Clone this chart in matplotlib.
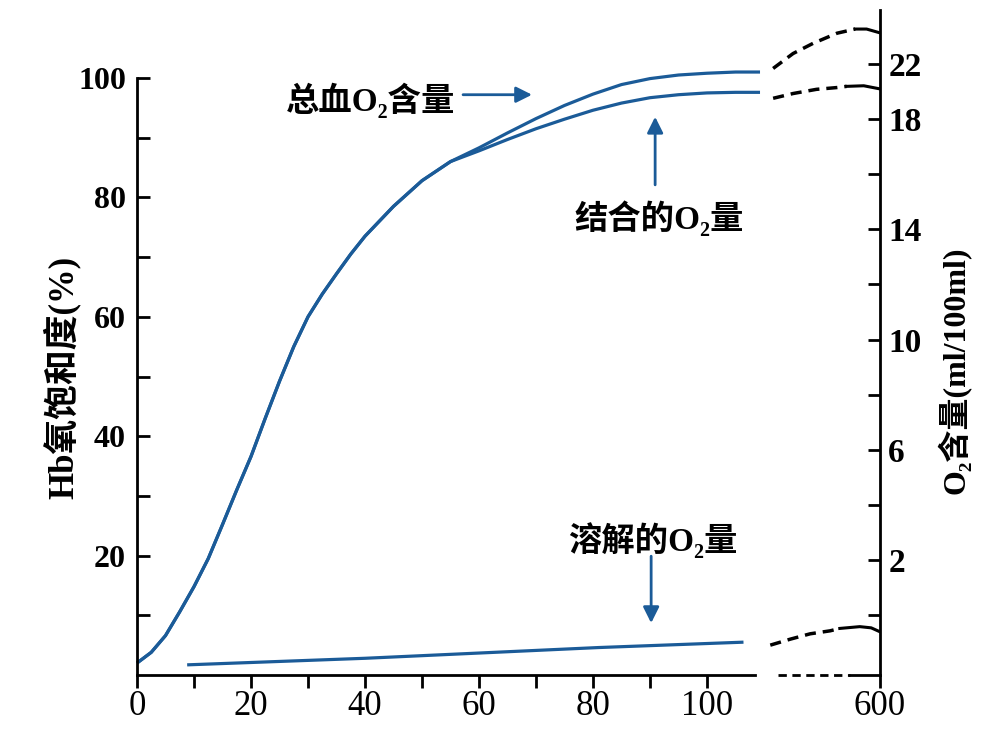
import matplotlib
matplotlib.use('Agg')
import matplotlib.pyplot as plt

# 氧分压 PO2 (mmHg) 与 Hb氧饱和度 (%) —— 从原图读取
po2_total = [0, 2.5, 5, 7.5, 10, 12.5, 15, 17.5, 20, 22.5, 25, 27.5, 30, 32.5, 35, 37.5, 40, 45, 50, 55,
             60, 65, 70, 75, 80, 85, 90, 95, 100, 105, 109.3]
total_o2 = [2.0, 3.8, 6.6, 10.6, 14.8, 19.5, 25.2, 31.0, 36.6, 43.0, 49.2, 55.0, 60.0, 63.8, 67.2, 70.5, 73.5,
            78.5, 82.8, 86.0, 88.3, 90.8, 93.2, 95.4, 97.3, 98.9, 99.9, 100.5, 100.8, 101.0, 101.0]

po2_bound = [0, 2.5, 5, 7.5, 10, 12.5, 15, 17.5, 20, 22.5, 25, 27.5, 30, 32.5, 35, 37.5, 40, 45, 50, 55,
             60, 65, 70, 75, 80, 85, 90, 95, 100, 105, 109.3]
bound_o2 = [2.0, 3.8, 6.6, 10.6, 14.8, 19.5, 25.2, 31.0, 36.6, 43.0, 49.2, 55.0, 60.0, 63.8, 67.2, 70.5, 73.5,
            78.5, 82.8, 86.0, 87.8, 89.7, 91.5, 93.1, 94.6, 95.8, 96.7, 97.2, 97.5, 97.6, 97.6]

po2_dissolved = [8.8, 40, 81, 106.4]
dissolved_o2 = [1.7, 2.8, 4.6, 5.5]

# 断轴之后 (到 600 mmHg) 的虚线部分
brk_total_x = [111.6, 115.1, 118.6, 122.8, 126.0]
brk_total_y = [101.6, 104.1, 105.8, 107.5, 108.2]
end_total_x = [126.0, 128.0, 130.2]
end_total_y = [108.2, 108.2, 107.6]

brk_bound_x = [111.6, 115.1, 119.2, 122.8, 124.5]
brk_bound_y = [96.6, 97.4, 98.1, 98.4, 98.6]
end_bound_x = [124.5, 127.5, 130.2]
end_bound_y = [98.6, 98.7, 98.2]

brk_diss_x = [111.1, 114.6, 118.1, 121.6, 123.3]
brk_diss_y = [5.0, 6.0, 6.9, 7.4, 7.8]
end_diss_x = [123.3, 126.8, 128.8, 130.2]
end_diss_y = [7.8, 8.1, 7.9, 7.3]

x_ticks = [0, 20, 40, 60, 80, 100]
x_minor = [10, 30, 50, 70, 90]
x_end = 130.35
left_ticks = [20, 40, 60, 80, 100]
left_minor = [10, 30, 50, 70, 90]
right_ticks = [2, 6, 10, 14, 18, 20]
right_labels = ['2', '6', '10', '14', '18', '22']
right_minor = [0, 4, 8, 12, 16]

blue = '#1b5b98'
cjk = ['Liberation Serif', 'DejaVu Serif', 'Noto Sans CJK SC']

fig = plt.figure(figsize=(9.94, 7.29), dpi=100)
ax = fig.add_axes([137 / 994, 54 / 729, 743 / 994, 665 / 729])
ax2 = ax.twinx()

ax.set_xlim(0, x_end)
ax.set_ylim(0, 665 / 5.97)
ax2.set_ylim(-2.17, -2.17 + 665 / 27.56)

# 曲线
ax.plot(po2_total, total_o2, color=blue, lw=2.3, solid_capstyle='butt', clip_on=False)
ax.plot(po2_bound, bound_o2, color=blue, lw=2.3, solid_capstyle='butt', clip_on=False)
ax.plot(po2_dissolved, dissolved_o2, color=blue, lw=2.3, solid_capstyle='butt', clip_on=False)

for bx, by, ex, ey in [(brk_total_x, brk_total_y, end_total_x, end_total_y),
                       (brk_bound_x, brk_bound_y, end_bound_x, end_bound_y),
                       (brk_diss_x, brk_diss_y, end_diss_x, end_diss_y)]:
    ax.plot(bx, by, color='black', lw=2.5, dashes=(3.2, 2.0), clip_on=False)
    ax.plot(ex, ey, color='black', lw=2.2, clip_on=False)

# 坐标轴 (x轴断开)
for s in ['top', 'right']:
    ax.spines[s].set_visible(False)
for s in ['top', 'left', 'bottom']:
    ax2.spines[s].set_visible(False)
ax.spines['left'].set_bounds(0, 100)
ax.spines['bottom'].set_bounds(0, 108.4)
ax.spines['left'].set_linewidth(2)
ax.spines['bottom'].set_linewidth(2)
ax2.spines['right'].set_linewidth(2)
ax.plot([112.5, 125], [0, 0], color='black', lw=2, dashes=(3, 2), clip_on=False)
ax.plot([125, x_end], [0, 0], color='black', lw=2, clip_on=False)

ax.set_xticks(x_ticks + [x_end])
ax.set_xticklabels([str(v) for v in x_ticks] + ['600'])
ax.set_xticks(x_minor, minor=True)
ax.tick_params(axis='x', which='both', direction='out', length=9, width=2, pad=2)
for lab in ax.get_xticklabels():
    lab.set_fontfamily('Liberation Serif')
    lab.set_fontsize(25)

ax.set_yticks(left_ticks)
ax.set_yticks(left_minor, minor=True)
ax.tick_params(axis='y', which='both', direction='in', length=9, width=2, pad=8)
for lab in ax.get_yticklabels():
    lab.set_fontfamily('Liberation Serif')
    lab.set_fontweight('bold')
    lab.set_fontsize(23)

ax2.set_yticks(right_ticks)
ax2.set_yticklabels(right_labels)
ax2.set_yticks(right_minor, minor=True)
ax2.tick_params(axis='y', which='both', direction='in', length=9, width=2, pad=6)
for lab in ax2.get_yticklabels():
    lab.set_fontfamily('Liberation Serif')
    lab.set_fontweight('bold')
    lab.set_fontsize(24)

fig.text(62 / 994, 1 - 377 / 729, 'Hb氧饱和度(%)', rotation=90, ha='center', va='center',
         fontsize=25, family=cjk, weight='bold')
fig.text(955 / 994, 1 - 370 / 729, 'O₂含量(ml/100ml)', rotation=90, ha='center', va='center',
         fontsize=23, family=cjk, weight='bold')

# 标注
arrow = dict(arrowstyle='-|>', color=blue, lw=2, mutation_scale=24, shrinkA=0, shrinkB=0)
ax.text(40.9, 96.3, '总血O₂含量', ha='center', va='center', fontsize=24, family=cjk, weight='bold')
ax.annotate('', xy=(69.3, 97.2), xytext=(57.2, 97.2), arrowprops=arrow)
ax.text(91.6, 76.5, '结合的O₂量', ha='center', va='center', fontsize=24, family=cjk, weight='bold')
ax.annotate('', xy=(90.9, 93.5), xytext=(90.9, 82.1), arrowprops=arrow)
ax.text(90.4, 22.6, '溶解的O₂量', ha='center', va='center', fontsize=24, family=cjk, weight='bold')
ax.annotate('', xy=(90.2, 8.7), xytext=(90.2, 19.9), arrowprops=arrow)

fig.savefig('out.png', dpi=100)
